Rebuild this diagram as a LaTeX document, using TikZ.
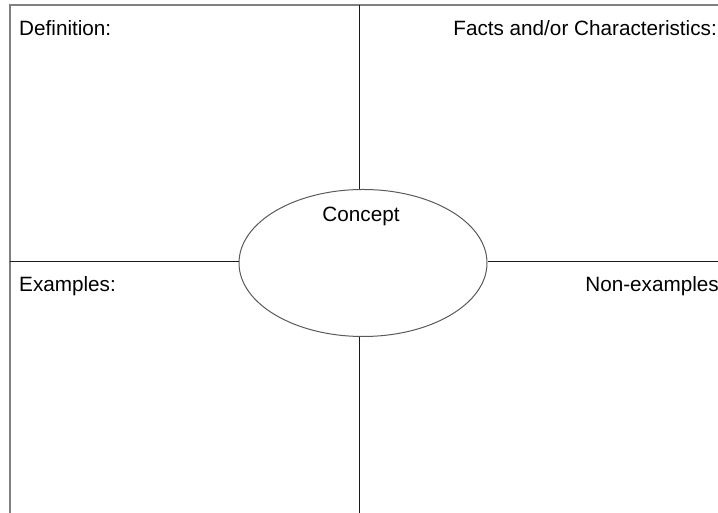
\documentclass[tikz,border=0pt]{standalone}
\usepackage{fontspec}
\setmainfont{Liberation Sans}
\usepackage{tikz}
\usetikzlibrary{positioning,shapes.geometric}
\definecolor{FrameGray}{HTML}{808080}
\definecolor{RuleGray}{HTML}{1A1A1A}

\begin{document}
\begin{tikzpicture}[x=1pt,y=1pt]
  \tikzstyle{cornerlbl}=[inner sep=0pt,font=\fontsize{20.7}{24}\selectfont]
  \tikzstyle{rule}=[draw=RuleGray,line width=1pt]
  \useasboundingbox (0,0) rectangle (718,513);
  % frame corners and rule ends
  \coordinate (fbl) at (9.5,0);
  \coordinate (ftl) at (9.5,508);
  \coordinate (ftr) at (718,508);
  \coordinate (vtop) at (359,508);
  \coordinate (vbot) at (359,0);
  \coordinate (hleft) at (9.5,251);
  \coordinate (hright) at (718,251);
  \node[ellipse,draw=FrameGray!70!black,line width=1pt,minimum width=248pt,minimum height=147pt,
    inner sep=0pt] (concept) at (363,250) {};
  \node[cornerlbl,anchor=base] (clbl) at (361,291) {Concept};
  \node[cornerlbl,anchor=base west] (def) at (19,477) {Definition:};
  \node[cornerlbl,anchor=base east] (facts) at (717,477) {Facts and/or Characteristics:};
  \node[cornerlbl,anchor=base west] (ex) at (19,221) {Examples:};
  \node[cornerlbl,anchor=base east] (nonex) at (719,221) {Non-examples};
  \draw[draw=FrameGray,line width=2pt] (fbl)--(ftl)--(ftr);
  \draw[rule] (vtop)--(vtop |- concept.north);
  \draw[rule] (vbot |- concept.south)--(vbot);
  \draw[rule] (hleft)--(hleft -| concept.west);
  \draw[rule] (hright -| concept.east)--(hright);
\end{tikzpicture}
\end{document}
